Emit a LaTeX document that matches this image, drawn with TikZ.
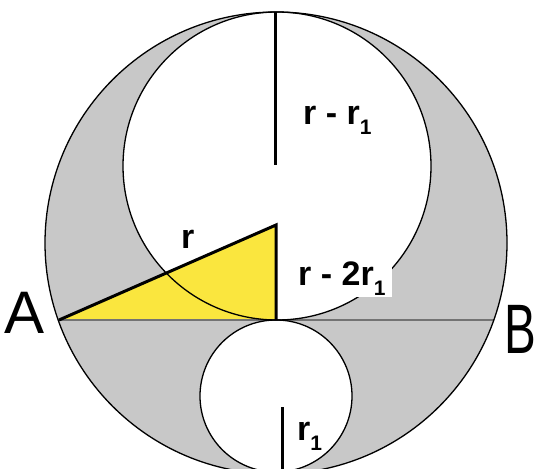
\documentclass[tikz,border=0pt]{standalone}
\usepackage{fontspec}
\setmainfont{Liberation Sans}
\newcommand{\uno}{\raisebox{-0.3em}{\fontsize{21}{21}\selectfont 1}}
\definecolor{giallo}{RGB}{250,230,62}
\definecolor{grigio}{RGB}{200,200,200}
\begin{document}
\begin{tikzpicture}[x=1pt, y=-1pt,
    bordo/.style={line width=1.3pt, black},
    raggio/.style={line width=3pt, black},
    etichetta/.style={font=\bfseries\fontsize{34}{34}\selectfont, inner sep=0pt, anchor=base west},
    lettera/.style={font=\fontsize{60}{60}\selectfont, inner sep=0pt, anchor=base west}]

    % Parametri (in pixel)
    \def\R{231}     % raggio r
    \def\Rsup{154}  % raggio r - r_1
    \def\Rinf{76}   % raggio r_1

    \useasboundingbox (0,0) rectangle (537,468);
    \clip (0,0) rectangle (537,468);

    % Centri delle circonferenze
    \coordinate (O) at (276,243);
    \coordinate (P) at (277,166);
    \coordinate (Q) at (276,396);

    % Corda e triangolo
    \coordinate (A) at (59,320);
    \coordinate (B) at (494,320);
    \coordinate (C) at (276,225);
    \coordinate (H) at (276,320);

    % Estremi dei segmenti verticali
    \coordinate (T) at (275,12);
    \coordinate (M) at (275,165);
    \coordinate (S) at (282,407);
    \coordinate (U) at (282,472);

    % Regione grigia
    \fill[grigio, even odd rule] (O) circle (\R) (P) circle (\Rsup) (Q) circle (\Rinf);

    % Triangolo
    \fill[giallo] (A) -- (C) -- (H) -- cycle;

    % Corda AB
    \draw[line width=2pt, black!55] (A) -- (B);

    % Circonferenze
    \draw[bordo] (O) circle (\R);
    \draw[bordo] (P) circle (\Rsup);
    \draw[bordo] (Q) circle (\Rinf);

    % Raggi
    \draw[raggio] (A) -- (C) -- (H);
    \draw[raggio] (T) -- (M);
    \draw[raggio] (S) -- (U);

    % Etichette
    \node[etichetta] (lr) at (181,248) {r};
    \node[etichetta] (lrr) at (303,124) {r - r\uno};
    \node[etichetta, fill=white, inner xsep=7pt, inner ysep=2pt] (lrdue) at (291,285) {r - 2r\uno};
    \node[etichetta] (luno) at (297,440) {r\uno};
    \node[lettera] (la) at (4,333) {A};
    \node[lettera, font=\fontsize{70}{70}\selectfont] (lb) at (504,353) {\scalebox{0.68}[1]{B}};

\end{tikzpicture}
\end{document}
